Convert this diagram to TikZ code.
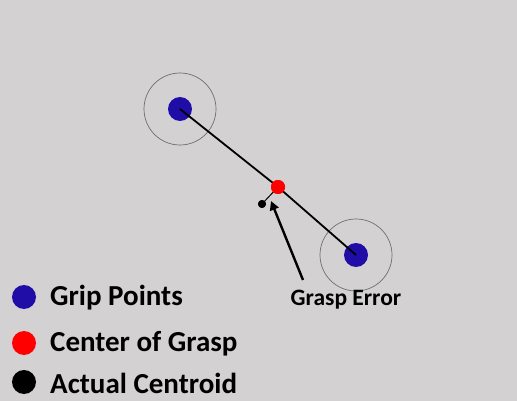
\documentclass[tikz,border=0pt]{standalone}
\usepackage{fontspec}
\setmainfont{Carlito}
\usetikzlibrary{arrows.meta}
\definecolor{bg}{RGB}{211,209,210}
\definecolor{gripblue}{RGB}{32,12,166}
\definecolor{ringgray}{RGB}{110,110,110}
\tikzset{
  grip/.style={circle,fill=gripblue,minimum size=24pt,inner sep=0pt},
  ring/.style={circle,draw=ringgray,line width=0.7pt,minimum size=72pt,inner sep=0pt},
  cog/.style={circle,fill=red,minimum size=14pt,inner sep=0pt},
  cent/.style={circle,fill=black,minimum size=8pt,inner sep=0pt},
  legdot/.style={circle,minimum size=24pt,inner sep=0pt},
  legtxt/.style={anchor=west,font=\bfseries\fontsize{29}{31}\selectfont,inner sep=0pt},
  lbl/.style={font=\bfseries\fontsize{23.5}{25}\selectfont,inner sep=0pt}
}
\begin{document}
\begin{tikzpicture}[x=1pt,y=-1pt]
\fill[bg] (0,0) rectangle (517,401);
\useasboundingbox (0,0) rectangle (517,401);
\node[ring] (r1) at (180,109) {};
\node[ring] (r2) at (356,255) {};
\node[grip] (g1) at (180,109) {};
\node[grip] (g2) at (356,255) {};
\node[cog] (c) at (278,187) {};
\node[cent] (a) at (262,204) {};
\draw[line width=1.8pt] (g1.center) -- (c.center);
\draw[line width=1.8pt] (c.center) -- (g2.center);
\draw[line width=1pt] (a.center) -- (c.center);
\node[cog] at (278,187) {};
\node[cent] at (262,204) {};
\node[lbl] (ge) at (346,300) {Grasp Error};
\coordinate (tail) at (303,280);
\coordinate (tip) at (271,201);
\draw[line width=2.4pt,-{Triangle[length=9pt,width=9pt]}] (tail) -- (tip);
\node[legdot,fill=gripblue] (l1) at (24,297) {};
\node[legdot,fill=red] (l2) at (24,343) {};
\node[legdot,fill=black] (l3) at (24,382) {};
\node[legtxt] (t1) at (50,298) {Grip Points};
\node[legtxt] (t2) at (50,344) {Center of Grasp};
\node[legtxt] (t3) at (50,383) {Actual Centroid};
\end{tikzpicture}
\end{document}
